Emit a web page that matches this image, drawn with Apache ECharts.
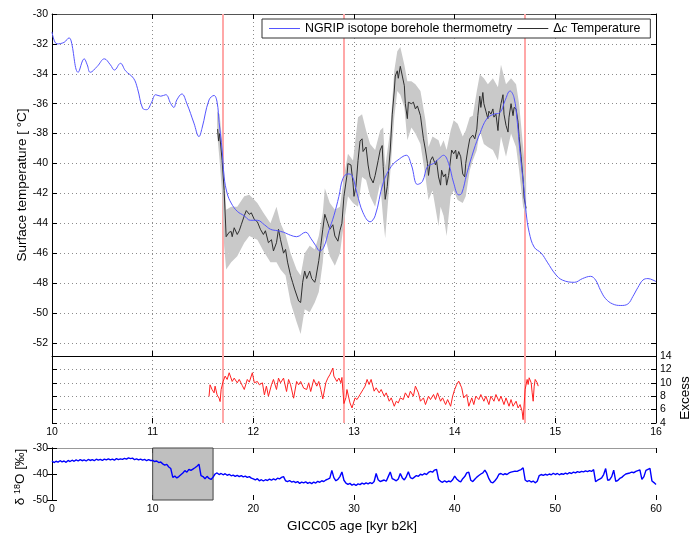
<!DOCTYPE html>
<html><head><meta charset="utf-8">
<script src="https://cdn.jsdelivr.net/npm/echarts@6/dist/echarts.min.js"></script>
<style>html,body{margin:0;padding:0;background:#fff}#c{width:692px;height:535px}</style>
</head><body><div id="c"></div>
<script>
const FONT = '"Liberation Sans", Arial, Helvetica, sans-serif';

// ---- Top panel: surface temperature (kyr b2k, deg C) ----
const tempTicks = [-52, -50, -48, -46, -44, -42, -40, -38, -36, -34, -32, -30];
const boreholeAge = [10.00,10.05,10.12,10.17,10.19,10.26,10.32,10.35,10.38,10.45,10.52,10.58,10.62,10.68,10.73,10.81,10.85,10.90,10.94,10.99,11.03,11.08,11.13,11.18,11.21,11.24,11.29,11.34,11.41,11.46,11.49,11.56,11.61,11.64,11.66,11.69,11.71,11.74,11.78,11.84,11.91,11.97,12.04,12.11,12.17,12.24,12.30,12.37,12.43,12.52,12.57,12.62,12.66,12.70,12.75,12.80,12.85,12.89,12.94,12.98,13.03,13.09,13.16,13.21,13.29,13.37,13.45,13.52,13.57,13.63,13.68,13.73,13.79,13.84,13.89,13.94,13.99,14.04,14.07,14.12,14.19,14.25,14.32,14.39,14.45,14.50,14.55,14.59,14.62,14.65,14.69,14.71,14.74,14.79,14.86,14.92,15.00,15.07,15.19,15.27,15.35,15.40,15.45,15.50,15.57,15.65,15.72,15.77,15.82,15.87,15.92,15.97,16.00];
const boreholeTemp = [-31.2,-32.0,-31.9,-31.6,-31.8,-33.9,-33.0,-33.4,-33.9,-33.5,-33.0,-33.4,-33.75,-33.3,-33.8,-34.3,-35.0,-36.3,-36.4,-35.9,-35.4,-35.5,-35.4,-36.0,-36.25,-35.75,-35.35,-36.0,-37.3,-38.2,-37.65,-35.75,-35.45,-35.9,-37.25,-39.1,-40.9,-42.0,-42.65,-43.2,-43.5,-43.8,-43.8,-44.1,-44.4,-44.5,-44.6,-44.8,-44.9,-44.6,-45.0,-45.5,-45.85,-45.6,-44.5,-43.5,-42.2,-41.0,-40.7,-40.8,-42.0,-43.3,-43.9,-43.5,-41.3,-40.2,-39.7,-39.45,-40.1,-41.4,-41.2,-40.2,-40.0,-39.7,-39.45,-40.0,-41.3,-42.1,-42.0,-40.7,-39.1,-38.0,-37.0,-36.7,-36.6,-35.8,-35.15,-35.6,-37.1,-39.3,-41.8,-43.3,-44.6,-45.6,-46.0,-46.6,-47.4,-47.8,-47.95,-47.7,-47.55,-47.8,-48.5,-49.05,-49.4,-49.5,-49.4,-48.9,-48.3,-47.8,-47.7,-47.8,-47.9];

const dcAge = [11.645,11.655,11.665,11.675,11.69,11.71,11.73,11.74,11.76,11.78,11.79,11.81,11.84,11.86,11.88,11.91,11.93,11.96,11.98,12.01,12.04,12.07,12.10,12.12,12.15,12.18,12.20,12.23,12.25,12.27,12.30,12.32,12.34,12.37,12.39,12.41,12.43,12.45,12.47,12.49,12.51,12.53,12.56,12.58,12.61,12.62,12.65,12.67,12.69,12.71,12.74,12.76,12.79,12.81,12.84,12.86,12.88,12.90,12.93,12.94,12.97,12.99,13.00,13.02,13.04,13.06,13.08,13.09,13.12,13.14,13.16,13.19,13.21,13.24,13.26,13.28,13.29,13.31,13.33,13.36,13.38,13.40,13.41,13.43,13.44,13.46,13.48,13.50,13.51,13.53,13.54,13.57,13.59,13.61,13.63,13.66,13.69,13.71,13.73,13.74,13.76,13.78,13.81,13.82,13.84,13.86,13.87,13.89,13.91,13.92,13.94,13.96,13.97,13.99,14.01,14.02,14.04,14.06,14.08,14.10,14.11,14.13,14.15,14.16,14.18,14.20,14.22,14.23,14.25,14.26,14.28,14.29,14.31,14.33,14.34,14.36,14.38,14.39,14.41,14.43,14.44,14.46,14.48,14.49,14.51,14.53,14.54,14.56,14.58,14.59,14.61,14.63,14.64,14.66,14.68,14.69,14.71];
const dcTemp = [-37.7,-38.5,-38.0,-38.7,-39.8,-41.8,-44.9,-45.0,-44.6,-44.55,-44.9,-44.3,-44.75,-44.5,-44.1,-43.5,-43.15,-43.4,-43.3,-43.75,-43.9,-44.4,-44.75,-44.5,-45.3,-45.1,-45.85,-45.3,-44.4,-45.1,-46.0,-45.75,-46.6,-47.5,-47.95,-48.4,-48.8,-49.2,-49.3,-47.95,-47.2,-47.7,-47.2,-47.7,-47.95,-47.7,-46.5,-45.5,-44.4,-43.4,-44.0,-44.4,-44.1,-44.85,-45.2,-44.5,-44.0,-42.2,-40.8,-40.0,-40.1,-41.3,-42.2,-41.5,-39.8,-38.5,-38.35,-39.2,-38.9,-40.1,-40.9,-41.3,-40.8,-39.8,-39.1,-38.8,-40.2,-42.4,-41.55,-39.1,-36.7,-35.15,-34.15,-33.8,-34.3,-33.5,-34.15,-34.8,-36.0,-37.0,-35.9,-36.0,-35.9,-36.35,-36.15,-36.8,-38.35,-39.1,-40.0,-40.8,-39.8,-39.55,-40.1,-39.8,-40.9,-41.45,-40.45,-40.9,-40.7,-41.45,-40.8,-39.7,-39.1,-39.35,-39.1,-39.7,-39.2,-39.55,-40.7,-40.9,-40.0,-39.1,-38.35,-38.45,-38.1,-38.35,-37.7,-36.8,-35.5,-36.25,-35.25,-36.0,-36.5,-37.0,-36.5,-36.7,-36.35,-36.9,-36.7,-37.8,-36.9,-36.0,-35.4,-36.7,-37.45,-37.9,-36.9,-36.0,-36.8,-36.25,-36.35,-37.25,-38.2,-39.55,-41.1,-42.3,-43.0];

const bandAge = [11.64,11.665,11.69,11.71,11.73,11.78,11.84,11.91,11.96,12.04,12.10,12.17,12.23,12.27,12.32,12.37,12.43,12.47,12.51,12.56,12.61,12.65,12.69,12.71,12.76,12.81,12.86,12.90,12.94,12.99,13.04,13.08,13.12,13.16,13.21,13.26,13.29,13.31,13.36,13.40,13.43,13.46,13.50,13.53,13.57,13.61,13.66,13.71,13.74,13.78,13.84,13.86,13.89,13.92,13.96,13.99,14.03,14.08,14.11,14.15,14.18,14.22,14.25,14.29,14.33,14.38,14.43,14.46,14.51,14.56,14.61,14.64,14.68,14.71];
const bandUpper = [-36.5,-36.7,-38.5,-40.5,-43.1,-42.9,-42.9,-42.2,-42.1,-42.65,-43.3,-44.0,-42.9,-44.0,-44.75,-46.0,-47.1,-47.5,-46.0,-45.5,-45.75,-44.85,-43.3,-41.65,-42.65,-43.1,-42.9,-40.9,-39.35,-39.8,-36.9,-36.7,-37.8,-38.7,-39.1,-37.8,-37.6,-40.2,-37.8,-33.8,-32.5,-32.2,-33.4,-34.5,-34.5,-34.7,-35.15,-37.1,-38.9,-38.2,-38.45,-38.9,-38.45,-39.1,-37.8,-37.1,-37.35,-38.2,-37.8,-36.9,-36.8,-35.15,-34.05,-34.3,-34.7,-34.3,-34.9,-33.4,-34.7,-34.3,-34.7,-36.0,-38.9,-41.3];
const bandLower = [-38.0,-39.8,-42.0,-45.5,-47.1,-46.6,-46.2,-45.3,-44.85,-45.1,-45.85,-46.6,-46.6,-47.1,-47.5,-49.3,-50.6,-51.4,-49.75,-49.95,-49.3,-48.6,-46.6,-44.85,-46.2,-46.85,-46.0,-44.0,-42.2,-42.65,-42.9,-40.9,-41.1,-42.2,-42.9,-41.3,-43.75,-45.0,-40.65,-36.9,-35.15,-35.4,-36.25,-38.45,-37.6,-38.0,-38.7,-40.9,-42.45,-41.8,-44.2,-42.9,-43.5,-44.85,-42.2,-41.8,-42.45,-42.65,-42.2,-40.45,-39.8,-39.1,-37.8,-38.7,-38.9,-39.1,-39.8,-38.2,-39.55,-38.0,-38.9,-40.45,-42.9,-43.5];

const eventAges = [11.7, 12.9, 14.7];

// ---- Middle panel: deuterium excess ----
const excessAge = [11.56,11.57,11.59,11.61,11.62,11.64,11.66,11.67,11.68,11.70,11.72,11.74,11.76,11.79,11.81,11.84,11.86,11.89,11.91,11.94,11.96,11.99,12.01,12.04,12.06,12.09,12.11,12.13,12.15,12.18,12.20,12.23,12.25,12.27,12.30,12.33,12.35,12.37,12.40,12.43,12.45,12.47,12.50,12.53,12.55,12.57,12.60,12.63,12.65,12.67,12.69,12.72,12.74,12.76,12.79,12.80,12.83,12.85,12.87,12.88,12.89,12.90,12.92,12.93,12.96,12.98,13.01,13.03,13.06,13.09,13.11,13.13,13.15,13.17,13.20,13.22,13.25,13.27,13.30,13.32,13.35,13.37,13.40,13.42,13.44,13.46,13.49,13.51,13.54,13.56,13.59,13.61,13.64,13.66,13.69,13.71,13.74,13.76,13.79,13.81,13.83,13.86,13.88,13.91,13.93,13.96,13.98,14.00,14.02,14.04,14.07,14.09,14.12,14.14,14.17,14.19,14.21,14.24,14.26,14.29,14.31,14.34,14.36,14.39,14.41,14.44,14.46,14.49,14.51,14.54,14.56,14.58,14.61,14.63,14.65,14.67,14.68,14.69,14.70,14.72,14.73,14.74,14.76,14.77,14.78,14.79,14.80,14.82,14.83];
const excessVal = [7.96,9.7,9.0,8.5,9.5,8.2,7.7,7.2,9.0,10.2,11.0,10.5,11.5,10.2,10.7,10.0,10.5,9.6,9.0,10.5,10.1,11.5,10.0,10.2,9.7,10.0,8.2,9.5,8.0,9.7,10.5,9.0,10.7,10.0,10.7,8.7,10.5,9.7,7.7,10.2,9.7,10.2,9.2,9.0,10.0,8.7,10.5,9.5,10.2,9.0,7.6,10.0,10.7,11.2,12.2,11.0,10.2,10.7,10.0,10.8,8.8,6.9,7.8,9.0,7.0,6.25,7.75,7.5,8.25,9.0,9.5,10.5,9.75,10.5,8.75,9.25,8.5,9.0,8.0,8.5,7.25,7.75,6.5,7.25,7.0,7.75,7.5,8.5,7.75,8.75,8.0,9.5,8.5,7.25,7.75,6.75,8.0,7.5,8.25,7.5,8.5,7.25,7.75,6.75,7.5,6.5,8.0,9.0,9.75,10.25,9.25,7.75,8.25,6.5,7.75,6.75,8.0,7.5,8.25,7.25,8.0,6.75,8.0,7.25,8.25,7.25,8.0,6.75,7.75,6.5,7.5,6.5,7.25,6.25,6.75,5.75,4.5,4.25,9.0,10.5,9.75,10.75,10.0,8.5,7.25,9.5,10.5,10.0,9.5];

// ---- Bottom panel: NGRIP d18O, 0-60 kyr, 0.2 kyr spacing ----
const d18oStartAge = 0;
const d18oStepAge = 0.2;
const d18oValues = [
-35.0,-35.6,-35.1,-35.4,-34.9, -35.3,-35.0,-35.5,-34.8,-35.2, -34.7,-35.1,-34.6,-35.0,-34.5, -34.9,-34.6,-35.0,-34.4,-34.8,
-34.5,-34.9,-34.3,-34.7,-34.4, -34.8,-34.3,-34.6,-34.2,-34.6, -34.3,-34.7,-34.1,-34.5,-34.2, -34.4,-34.0,-34.3,-33.8,-34.1,
-33.9,-34.5,-34.2,-34.6,-34.3, -34.7,-34.4,-34.9,-34.5,-34.8, -34.8,-35.2,-35.0,-35.6,-35.4, -36.1,-36.6,-36.3,-37.3,-37.9,
-41.3,-40.8,-41.5,-41.0,-40.3, -39.6,-38.7,-39.3,-38.2,-38.6, -38.1,-37.6,-37.0,-36.2,-40.6, -41.0,-41.8,-40.9,-41.7,-42.1,
-41.2,-40.0,-39.6,-40.2,-39.8, -40.3,-39.9,-40.5,-40.1,-40.7, -40.4,-40.9,-40.5,-41.0,-40.6, -41.1,-40.8,-41.3,-41.0,-41.6,
-41.9,-42.3,-41.8,-42.6,-42.2, -42.7,-42.2,-42.5,-42.0,-42.4, -41.9,-42.3,-41.6,-41.9,-41.3, -41.0,-42.6,-42.9,-42.5,-43.1,
-42.8,-43.3,-42.9,-43.6,-43.1, -43.4,-43.0,-43.6,-43.2,-43.7, -43.1,-43.5,-42.8,-43.2,-42.6, -42.9,-42.3,-42.0,-41.6,-38.6,
-41.4,-42.6,-42.1,-41.0,-39.2, -42.4,-43.5,-44.0,-43.6,-44.3, -43.9,-44.4,-43.8,-44.1,-43.5, -43.9,-43.4,-43.8,-43.3,-43.7,
-42.9,-39.8,-42.2,-42.9,-42.6, -42.3,-42.8,-41.0,-39.2,-41.8, -42.2,-42.6,-41.9,-39.8,-41.5, -42.3,-41.0,-39.1,-41.4,-41.8,
-41.2,-40.6,-40.9,-40.1,-40.4, -39.8,-40.2,-39.4,-39.0,-39.3, -38.5,-38.2,-42.1,-42.8,-43.2, -42.6,-43.1,-42.7,-43.0,-42.2,
-40.8,-41.9,-42.6,-43.0,-41.8, -41.0,-39.6,-39.3,-42.4,-42.9, -42.0,-41.2,-40.6,-40.0,-39.6, -38.5,-39.8,-41.8,-43.1,-43.4,
-42.6,-41.6,-40.1,-39.8,-40.3, -39.9,-40.2,-39.6,-39.3,-39.1, -38.9,-39.0,-38.6,-38.3,-37.6, -42.3,-42.9,-42.5,-43.1,-42.7,
-43.4,-42.8,-40.6,-40.2,-40.5, -40.1,-40.4,-40.0,-40.3,-39.7, -40.2,-39.8,-40.3,-39.9,-40.1, -39.7,-40.0,-39.5,-39.8,-39.3,
-39.6,-39.1,-39.4,-39.0,-39.2, -38.8,-39.1,-38.7,-39.0,-38.3, -42.9,-42.4,-42.0,-41.5,-40.2, -37.9,-42.4,-42.2,-41.0,-38.5,
-42.8,-42.5,-41.7,-41.3,-40.6, -40.0,-39.8,-39.6,-39.3,-39.5, -39.0,-38.7,-38.4,-42.1,-41.0, -38.6,-38.2,-37.8,-42.7,-43.3,
-44.0];
const highlightRange = [10, 16];

const zip = (a, b) => a.map((v, i) => [v, b[i]]);
const d18oData = d18oValues.map((v, i) => [d18oStartAge + i * d18oStepAge, v]);

const dotted = { color: '#8c8c8c', width: 1, type: [1, 3] };
const tick = { show: true, inside: true, length: 5, lineStyle: { color: '#000', width: 1 } };
const lab = { color: '#000', fontFamily: FONT, fontSize: 10.5 };
const blackLine = { show: true, lineStyle: { color: '#000', width: 1 } };
const vlineMark = {
  z: 1, silent: true, symbol: ['none', 'none'], label: { show: false }, emphasis: { disabled: true },
  lineStyle: { color: '#ffa8a8', width: 2, type: 'solid' },
  data: eventAges.map(a => ({ xAxis: a }))
};
const LEG_ICON = 'path://M0,0H31V1H0Z';

const chart = echarts.init(document.getElementById('c'));
chart.setOption({
  animation: false,
  backgroundColor: '#fff',
  grid: [
    { left: 52, right: 36, top: 14, height: 342 },
    { left: 52, right: 36, top: 356, height: 67 },
    { left: 52, right: 36, top: 448, height: 52 }
  ],
  xAxis: [
    { gridIndex: 0, type: 'value', min: 10, max: 16, interval: 1, position: 'bottom', axisLine: blackLine, axisTick: tick, axisLabel: { show: false }, splitLine: { show: true, lineStyle: dotted } },
    { gridIndex: 0, type: 'value', min: 10, max: 16, interval: 1, position: 'top', axisLine: { show: true, lineStyle: { color: '#555' } }, axisTick: tick, axisLabel: { show: false }, splitLine: { show: false } },
    { gridIndex: 1, type: 'value', min: 10, max: 16, interval: 1, position: 'bottom', axisLine: { show: false }, axisTick: tick, axisLabel: Object.assign({ margin: 4 }, lab), splitLine: { show: true, lineStyle: dotted } },
    { gridIndex: 2, type: 'value', min: 0, max: 60, interval: 10, position: 'bottom', axisLine: { show: false }, axisTick: tick, axisLabel: Object.assign({ margin: 4 }, lab), splitLine: { show: false } },
    { gridIndex: 2, type: 'value', min: 0, max: 60, interval: 10, position: 'top', axisLine: { show: true, lineStyle: { color: '#999' } }, axisTick: tick, axisLabel: { show: false }, splitLine: { show: false } }
  ],
  yAxis: [
    { gridIndex: 0, type: 'value', min: -52.88, max: -30, position: 'left', axisLine: blackLine, axisTick: Object.assign({ customValues: tempTicks }, tick), axisLabel: Object.assign({ margin: 4, customValues: tempTicks }, lab), splitLine: { show: true, lineStyle: dotted } },
    { gridIndex: 0, type: 'value', min: -52.88, max: -30, position: 'right', axisLine: blackLine, axisTick: Object.assign({ customValues: tempTicks }, tick), axisLabel: { show: false }, splitLine: { show: false } },
    { gridIndex: 1, type: 'value', min: 4, max: 14, interval: 2, position: 'right', axisLine: blackLine, axisTick: tick, axisLabel: Object.assign({ margin: 4 }, lab), splitLine: { show: true, lineStyle: dotted } },
    { gridIndex: 1, type: 'value', min: 4, max: 14, interval: 2, position: 'left', axisLine: blackLine, axisTick: tick, axisLabel: { show: false }, splitLine: { show: false } },
    { gridIndex: 2, type: 'value', min: -50, max: -30, interval: 10, position: 'left', axisLine: blackLine, axisTick: tick, axisLabel: Object.assign({ margin: 4 }, lab), splitLine: { show: false } },
    { gridIndex: 2, type: 'value', min: -50, max: -30, interval: 10, position: 'right', axisLine: blackLine, axisTick: tick, axisLabel: { show: false }, splitLine: { show: false } }
  ],
  legend: {
    left: 262, top: 19, orient: 'horizontal', itemGap: 5, itemWidth: 31, itemHeight: 14,
    padding: [3, 10, 3, 7], backgroundColor: '#fff', borderColor: '#333', borderWidth: 1, z: 10,
    data: [
      { name: 'NGRIP isotope borehole thermometry', icon: LEG_ICON },
      { name: 'Δc Temperature', icon: LEG_ICON }
    ],
    formatter: n => n === 'Δc Temperature' ? '{t|Δ}{i|c}{t| Temperature}' : '{t|' + n + '}',
    textStyle: {
      color: '#000', fontFamily: FONT, fontSize: 12.4,
      rich: { t: { fontFamily: FONT, fontSize: 12.4, color: '#000' }, i: { fontFamily: '"Liberation Serif", serif', fontStyle: 'italic', fontSize: 13, color: '#000' } }
    }
  },
  graphic: [
    { type: 'text', x: 22, y: 185, rotation: Math.PI / 2, style: { text: 'Surface temperature [ °C]', fontFamily: FONT, fontSize: 13.5, fill: '#000', align: 'center', verticalAlign: 'middle' } },
    { type: 'text', x: 685, y: 398, rotation: Math.PI / 2, style: { text: 'Excess', fontFamily: FONT, fontSize: 13.5, fill: '#000', align: 'center', verticalAlign: 'middle' } },
    { type: 'text', x: 20, y: 477, rotation: Math.PI / 2, style: { text: '{a|δ }{s|18}{a|O [‰]}', align: 'center', verticalAlign: 'middle',
        rich: { a: { fontFamily: FONT, fontSize: 13.5, fill: '#000' }, s: { fontFamily: FONT, fontSize: 9, fill: '#000', verticalAlign: 'top' } } } },
    { type: 'text', x: 352, y: 526, style: { text: 'GICC05 age [kyr b2k]', fontFamily: FONT, fontSize: 13.5, fill: '#000', align: 'center', verticalAlign: 'middle' } }
  ],
  series: [
    { type: 'line', name: 'events-top', xAxisIndex: 0, yAxisIndex: 0, data: [], markLine: vlineMark },
    {
      type: 'custom', name: 'band', xAxisIndex: 0, yAxisIndex: 0, z: 2, silent: true,
      data: [[bandAge[0], bandUpper[0]]],
      renderItem: (params, api) => {
        const pts = [];
        for (let i = 0; i < bandAge.length; i++) pts.push(api.coord([bandAge[i], bandUpper[i]]));
        for (let i = bandAge.length - 1; i >= 0; i--) pts.push(api.coord([bandAge[i], bandLower[i]]));
        return { type: 'polygon', shape: { points: pts }, style: { fill: '#c9c9c9', stroke: null } };
      }
    },
    { type: 'line', name: 'Δc Temperature', xAxisIndex: 0, yAxisIndex: 0, z: 3, data: zip(dcAge, dcTemp), symbol: 'none', lineStyle: { color: '#2e2e2e', width: 1 }, itemStyle: { color: '#2e2e2e' } },
    { type: 'line', name: 'NGRIP isotope borehole thermometry', xAxisIndex: 0, yAxisIndex: 0, z: 4, data: zip(boreholeAge, boreholeTemp), symbol: 'none', smooth: 0.4, lineStyle: { color: '#5555ff', width: 1 }, itemStyle: { color: '#5555ff' } },
    { type: 'line', name: 'events-mid', xAxisIndex: 2, yAxisIndex: 2, data: [], markLine: vlineMark },
    { type: 'line', name: 'Excess', xAxisIndex: 2, yAxisIndex: 2, z: 3, data: zip(excessAge, excessVal), symbol: 'none', lineStyle: { color: '#ff2020', width: 1 } },
    {
      type: 'line', name: 'd18O', xAxisIndex: 3, yAxisIndex: 4, z: 3, data: d18oData, symbol: 'none', lineStyle: { color: '#0000ff', width: 1.4 },
      markArea: { silent: true, z: 1, itemStyle: { color: '#bfbfbf', borderColor: '#444', borderWidth: 1 }, data: [[{ xAxis: highlightRange[0] }, { xAxis: highlightRange[1] }]] }
    }
  ]
});
</script>
</body></html>
